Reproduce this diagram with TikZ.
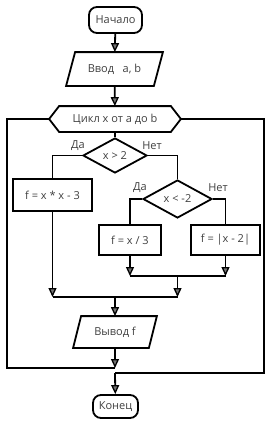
\documentclass[tikz,border=0pt]{standalone}
\usepackage{fontspec}
\setmainfont{Open Sans}
\usetikzlibrary{arrows.meta,shapes.geometric}
\begin{document}
\begin{tikzpicture}[x=1pt,y=-1pt,
  line width=1.8pt,
  txt/.style={font=\fontsize{11}{13}\selectfont, text=black!75},
  arr/.style={-{Triangle[length=9pt,width=8pt,fill=black!55,line width=1.3pt]}},
  blk/.style={txt, draw, rectangle, inner sep=0pt},
  term/.style={blk, rounded corners=8pt},
  plain/.style={txt, inner sep=0pt},
  dia/.style={txt, draw, diamond, inner sep=0pt},
  lbl/.style={txt, inner sep=0pt}
]
\useasboundingbox (0,0) rectangle (271,426);
\fill[white] (0,0) rectangle (271,426);

\node[term, minimum width=53pt, minimum height=26pt] (start) at (115.5,20) {Начало};
\node[plain, minimum width=95pt, minimum height=32pt] (in) at (114.5,69) {Ввод~~~a, b};
\draw (in.south west) -- ([xshift=9pt]in.north west) -- (in.north east) -- ([xshift=-9pt]in.south east) -- cycle;
\node[plain, minimum width=130pt, minimum height=24pt] (loop) at (115,119) {Цикл x от a до b};
\draw (loop.west) -- ([xshift=10pt]loop.north west) -- ([xshift=-10pt]loop.north east) -- (loop.east) -- ([xshift=-10pt]loop.south east) -- ([xshift=10pt]loop.south west) -- cycle;
\node[dia, minimum width=64pt, minimum height=35pt] (d1) at (115,155.5) {x > 2};
\node[blk, minimum width=79pt, minimum height=32pt] (b1) at (52.5,195) {f = x * x - 3};
\node[dia, minimum width=69pt, minimum height=38pt] (d2) at (177.5,199) {x < -2};
\node[blk, minimum width=62pt, minimum height=30pt] (b2) at (130,240) {f = x / 3};
\node[blk, minimum width=69pt, minimum height=30pt] (b3) at (225.5,240) {f = |x - 2|};
\node[plain, minimum width=82pt, minimum height=30pt] (out) at (115,332) {Вывод f};
\draw (out.south west) -- ([xshift=8pt]out.north west) -- (out.north east) -- ([xshift=-8pt]out.south east) -- cycle;
\node[term, minimum width=45pt, minimum height=23pt] (end) at (115.5,406.5) {Конец};

\node[lbl] (da1) at (78,146) {Да};
\node[lbl] (net1) at (152,146) {Нет};
\node[lbl] (da2) at (140,187.5) {Да};
\node[lbl] (net2) at (218,187.5) {Нет};

\coordinate (j2l) at (130,276);
\coordinate (j2r) at (225.5,276);
\coordinate (j2m) at (177.5,276);
\coordinate (j1l) at (52.5,297);
\coordinate (j1r) at (177.5,297);
\coordinate (j1m) at (115,297);
\coordinate (lb) at (115,368);
\coordinate (ll) at (7,368);
\coordinate (lt) at (7,119);
\coordinate (rt) at (264,119);
\coordinate (rb) at (264,373);
\coordinate (rm) at (115,373);

\draw[arr] (start) -- (in);
\draw[arr] (in) -- (loop);
\draw (loop) -- (d1);
\draw (d1.west) -| (b1.north);
\draw (d1.east) -| (d2.north);
\draw (d2.west) -| (b2.north);
\draw (d2.east) -| (b3.north);
\draw[arr] (b2.south) -- (j2l);
\draw[arr] (b3.south) -- (j2r);
\draw (j2l) -- (j2r);
\draw[arr] (j2m) -- (j1r);
\draw[arr] (b1.south) -- (j1l);
\draw (j1l) -- (j1r);
\draw[arr] (j1m) -- (out);
\draw[arr] (out) -- (lb);
\draw (lb) -- (ll) -- (lt) -- (loop.west);
\draw (loop.east) -- (rt) -- (rb) -- (rm);
\draw[arr] (rm) -- (end);
\end{tikzpicture}
\end{document}
